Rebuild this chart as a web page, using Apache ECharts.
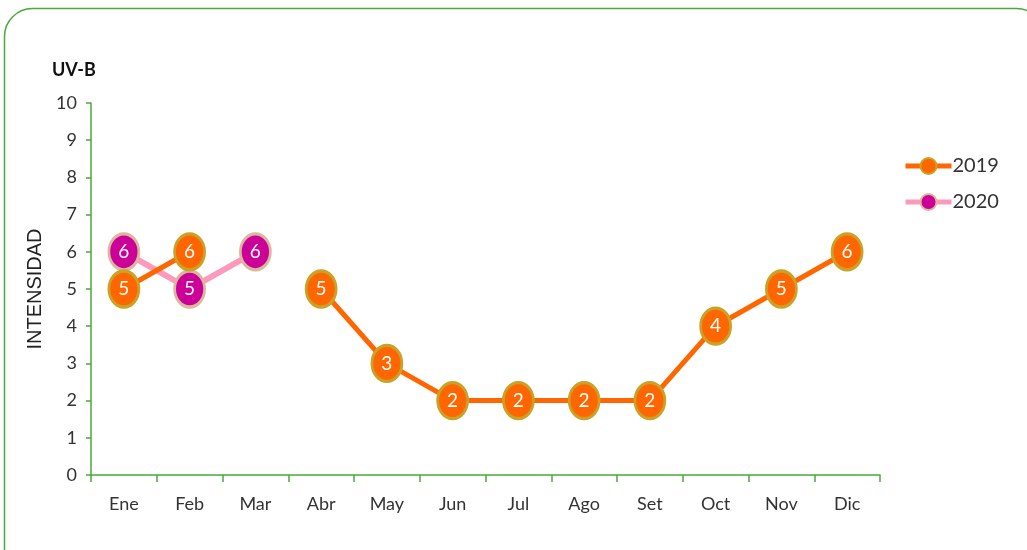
<!DOCTYPE html>
<html><head><meta charset="utf-8">
<script src="https://cdn.jsdelivr.net/npm/echarts@6/dist/echarts.min.js"></script>
<style>html,body{margin:0;padding:0;background:#fff}#c{width:1027px;height:550px}</style>
</head><body><div id="c"></div>
<script>
const months = ['Ene','Feb','Mar','Abr','May','Jun','Jul','Ago','Set','Oct','Nov','Dic'];
const y2019 = [5,6,null,5,3,2,2,2,2,4,5,6];
const y2020 = [6,5,6,null,null,null,null,null,null,null,null,null];
const yTicks = [0,1,2,3,4,5,6,7,8,9,10];

const green = '#4aaa3a';
const font = 'Lato, "Open Sans", sans-serif';
const chart = echarts.init(document.getElementById('c'));
chart.setOption({
  animation: false,
  graphic: [
    {type:'rect', shape:{x:4.5,y:8.5,width:1040,height:570,r:28}, style:{fill:'none',stroke:green,lineWidth:1.5}, z:-1},
    {type:'text', left:52, top:61, style:{text:'UV-B', font:'bold 18px ' + font, fill:'#111'}}
  ],
  grid: {left:91, right:147, top:103, bottom:75},
  legend: {
    orient:'vertical', left:898, top:151, itemGap:16, itemWidth:46, itemHeight:20,
    textStyle:{fontSize:20, color:'#333', fontFamily:font, padding:[0,0,0,-4]},
    data:[
      {name:'2019', lineStyle:{width:5}},
      {name:'2020', lineStyle:{width:5}}
    ]
  },
  xAxis: {
    type:'category', data:months, boundaryGap:true,
    axisLine:{lineStyle:{color:green, width:1.5}},
    axisTick:{show:true, length:7, lineStyle:{color:green, width:1.5}},
    axisLabel:{color:'#333', fontSize:18, fontFamily:font, margin:20}
  },
  yAxis: {
    type:'value', min:0, max:10, interval:1,
    name:'INTENSIDAD', nameLocation:'middle', nameGap:45, nameRotate:90,
    nameTextStyle:{fontSize:20, color:'#222', fontFamily:'"Liberation Sans", Arial, sans-serif'},
    axisLine:{show:true, lineStyle:{color:green, width:1.5}},
    axisTick:{show:true, length:5, lineStyle:{color:green, width:1.5}},
    splitLine:{show:false},
    axisLabel:{color:'#333', fontSize:18, fontFamily:font, margin:14,
      formatter: v => yTicks.includes(v) ? String(v) : ''}
  },
  series: [
    {
      name:'2019', type:'line', data:y2019, connectNulls:false,
      lineStyle:{color:'#ff6600', width:5},
      itemStyle:{color:'#ff6600', borderColor:'#c9a227', borderWidth:3},
      symbol:'circle', symbolSize:[30,36], showAllSymbol:true,
      label:{show:true, position:'inside', color:'#fff', fontSize:19, fontFamily:font},
      z:3
    },
    {
      name:'2020', type:'line', data:y2020, connectNulls:false,
      lineStyle:{color:'#ff99bb', width:6},
      itemStyle:{color:'#cc0099', borderColor:'#d9b89c', borderWidth:3},
      symbol:'circle', symbolSize:[30,36], showAllSymbol:true,
      label:{show:true, position:'inside', color:'#fff', fontSize:19, fontFamily:font},
      z:2
    }
  ]
});
</script></body></html>
